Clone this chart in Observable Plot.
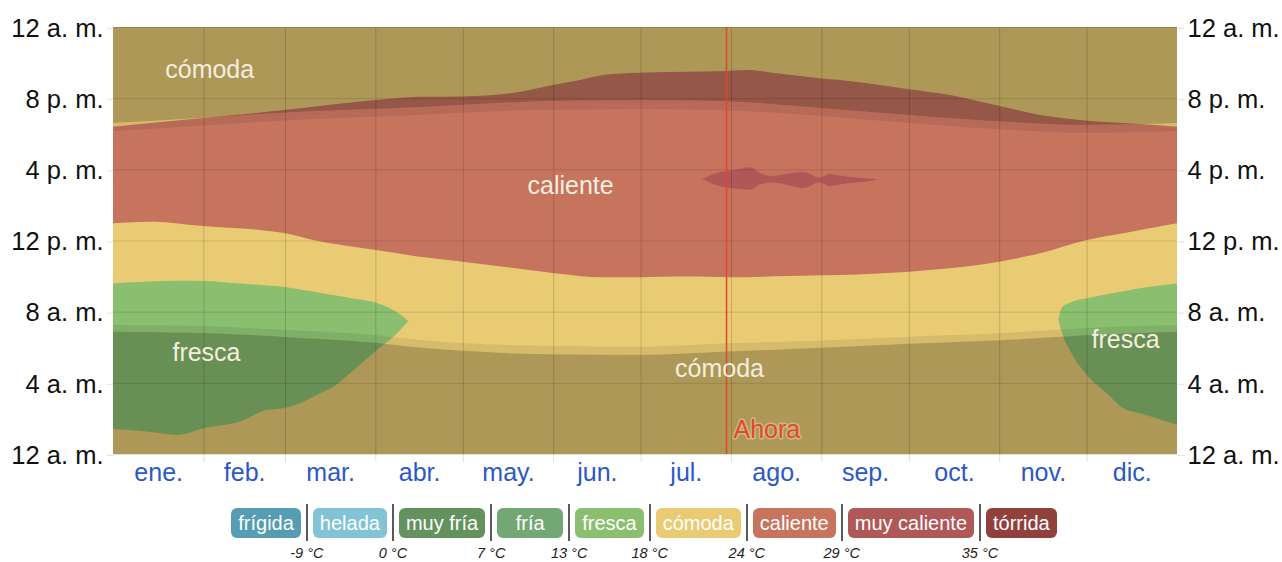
<!DOCTYPE html>
<html><head><meta charset="utf-8">
<script src="https://cdn.jsdelivr.net/npm/d3@7"></script>
<script src="https://cdn.jsdelivr.net/npm/@observablehq/plot@0.6"></script>
<style>
body{margin:0;background:#fff;font-family:"Liberation Sans",Arial,sans-serif;overflow:hidden}
#chart svg{display:block}
.legend{display:flex;justify-content:center;align-items:flex-start;margin-top:13px;height:54px;padding-left:6px}
.badge{height:30px;line-height:30px;border-radius:6px;color:#fff;font-size:20px;padding:0 7px;min-width:66px;box-sizing:border-box;text-align:center;white-space:nowrap}
.sep{position:relative;width:2px;height:37px;background:#5a5a5a;margin:-4px 5px 0 5px}
.sep span{position:absolute;top:42px;left:50%;transform:translateX(-50%);white-space:nowrap;font-style:italic;font-size:14.5px;line-height:14px;color:#222}
</style>
</head><body>
<div id="chart"></div>
<div class="legend" id="legend"></div>
<script>
// ---- data ----
const monthNames = ["ene.","feb.","mar.","abr.","may.","jun.","jul.","ago.","sep.","oct.","nov.","dic."];
const monthStarts = [31,59,90,120,151,181,212,243,273,304,334];
const monthMid = [15.5,45,74.5,105,135.5,166,196.5,227.5,258,288.5,319,349.5];
const hourTicks = [0,4,8,12,16,20,24];
const hourLabels = ["12 a. m.","4 a. m.","8 a. m.","12 p. m.","4 p. m.","8 p. m.","12 a. m."];

// caliente lower (morning) boundary
const calBottomDays = [0,13.7,30.9,58.7,68.6,90.2,105.3,120,133.8,151.5,168.1,180.8,196.9,211.4,231.2,249.4,273.1,287.1,303.9,318,334.1,348.9,365];
const calBottomHour = [12.97,13.06,12.81,12.42,12.03,11.47,11.09,10.81,10.53,10.16,9.93,9.93,9.97,9.93,10.0,10.06,10.25,10.44,10.81,11.28,12.03,12.48,12.97];
// caliente upper (evening) boundary
const calTopDays = [0,30.9,58.7,90.2,105.3,120,139.6,150.9,160.2,168.1,180.8,196.9,210.3,218.2,226.1,242.5,249.4,273.1,287.1,303.9,318,334.1,352.3,365];
const calTopHour = [18.40,18.88,19.33,19.90,20.08,20.10,20.36,20.74,21.02,21.30,21.43,21.48,21.53,21.58,21.43,21.12,21.02,20.50,20.18,19.57,19.05,18.73,18.55,18.40];

// fresca (Jan-Apr)
const frescaADays = [0,12.7,21.8,31,43.5,52.7,58.4,64.2,71,75.6,81.3,90.5,96.2,101.3];
const frescaALow  = [1.41,1.25,1.07,1.44,1.82,2.47,2.57,2.85,3.41,3.78,4.54,5.85,6.59,7.48];
const frescaAHigh = [9.59,9.70,9.74,9.73,9.58,9.47,9.40,9.24,9.07,8.94,8.77,8.49,8.09,7.48];
// fresca (Nov-Dec)
const frescaBDays = [324.3,325.4,328.2,334.1,340.9,346.6,352.3,358,365];
const frescaBLow  = [7.53,6.87,5.85,4.44,3.41,2.57,2.29,2.01,1.63];
const frescaBHigh = [7.53,8.20,8.50,8.75,8.98,9.15,9.31,9.45,9.59];

// muy caliente patch (Aug)
const muyDays = [202,204.8,208.2,213.4,218.5,222,226.1,231.1,236.8,242.5,245.9,249.4,253.9,259.9,262.1];
const muyLow  = [15.45,15.25,15.05,14.92,14.85,15.15,15.26,15.14,14.95,15.26,15.05,15.15,15.25,15.35,15.46];
const muyHigh = [15.45,15.65,15.85,15.98,16.12,15.80,15.63,15.75,15.85,15.54,15.75,15.65,15.55,15.48,15.46];

// sun: night and civil twilight
const sunDays    = [0,31,59,90,105,120,151,181,211,243,273,304,334,365];
const dawnHour   = [6.87,6.80,6.58,6.25,5.98,5.80,5.60,5.57,5.76,5.97,6.19,6.39,6.68,6.87];
const sunrise    = [7.25,7.19,6.97,6.69,6.41,6.24,6.07,6.03,6.22,6.38,6.59,6.78,7.08,7.25];
const sunset     = [18.15,18.45,18.75,18.95,19.05,19.18,19.35,19.38,19.30,19.0,18.6,18.25,18.05,18.15];
const duskHour   = [18.6,18.9,19.2,19.4,19.5,19.63,19.85,19.9,19.82,19.45,19.05,18.7,18.5,18.6];

const nowDay = 210.3;
const regionLabels = [
  {day:33, hour:21.6, text:"cómoda"},
  {day:156.8, hour:15.1, text:"caliente"},
  {day:31.9, hour:5.68, text:"fresca"},
  {day:207.9, hour:4.83, text:"cómoda"},
  {day:347.2, hour:6.41, text:"fresca"}
];

const legendNames  = ["frígida","helada","muy fría","fría","fresca","cómoda","caliente","muy caliente","tórrida"];
const legendColors = ["#569cb2","#82c4d6","#64925f","#73a874","#8bbf70","#e9cb74","#c7745f","#b05858","#91413c"];
const legendTemps  = ["-9 °C","0 °C","7 °C","13 °C","18 °C","24 °C","29 °C","35 °C"];

const C = {comoda:"#e9cb74", caliente:"#c7745f", muy:"#b05858", fresca:"#8bbf70"};

// ---- build ----
const zip = (xs, ...cols) => xs.map((x, i) => ({x, v: cols.map(c => c[i])}));
const calB = zip(calBottomDays, calBottomHour);
const calT = zip(calTopDays, calTopHour);
const frA = zip(frescaADays, frescaALow, frescaAHigh);
const frB = zip(frescaBDays, frescaBLow, frescaBHigh);
const muy = zip(muyDays, muyLow, muyHigh);
const sun = zip(sunDays, dawnHour, sunrise, sunset, duskHour);
const full = [{x:0},{x:365}];
const curve = "monotone-x";
const fmtHour = d => hourLabels[hourTicks.indexOf(d)];

const chart = Plot.plot({
  width: 1282, height: 495,
  marginTop: 27, marginBottom: 41, marginLeft: 113, marginRight: 105,
  x: {domain: [0, 365], axis: null},
  y: {domain: [0, 24], axis: null},
  style: {fontFamily: "'Liberation Sans', Arial, sans-serif", background: "transparent", overflow: "visible"},
  marks: [
    Plot.areaY(full, {x: "x", y1: 0, y2: 24, fill: C.comoda}),
    Plot.areaY(calB, {x: "x", y1: d => d.v[0], y2: 24, fill: C.caliente, curve}),
    Plot.areaY(calT, {x: "x", y1: d => d.v[0], y2: 24, fill: C.comoda, curve}),
    Plot.areaY(frA, {x: "x", y1: d => d.v[0], y2: d => d.v[1], fill: C.fresca, curve}),
    Plot.areaY(frB, {x: "x", y1: d => d.v[0], y2: d => d.v[1], fill: C.fresca, curve}),
    Plot.areaY(muy, {x: "x", y1: d => d.v[0], y2: d => d.v[1], fill: C.muy, curve}),
    // night & civil twilight overlays
    Plot.areaY(sun, {x: "x", y1: 0, y2: d => d.v[0], fill: "#000", fillOpacity: 0.25, curve}),
    Plot.areaY(sun, {x: "x", y1: d => d.v[0], y2: d => d.v[1], fill: "#000", fillOpacity: 0.08, curve}),
    Plot.areaY(sun, {x: "x", y1: d => d.v[2], y2: d => d.v[3], fill: "#000", fillOpacity: 0.08, curve}),
    Plot.areaY(sun, {x: "x", y1: d => d.v[3], y2: 24, fill: "#000", fillOpacity: 0.25, curve}),
    // grid
    Plot.gridX({ticks: monthStarts, stroke: "#000", strokeOpacity: 0.16}),
    Plot.gridY({ticks: hourTicks, stroke: "#000", strokeOpacity: 0.12}),
    Plot.axisX({ticks: monthStarts, tickSize: 8, tickFormat: () => "", label: null, stroke: "#000", strokeOpacity: 0.13}),
    Plot.axisX({ticks: monthMid, tickSize: 0, tickPadding: 9, label: null, tickFormat: d => monthNames[monthMid.indexOf(d)], fontSize: 25, fill: "#2b58c6"}),
    Plot.axisY({anchor: "left", ticks: hourTicks, tickSize: 6, tickPadding: 4, label: null, tickFormat: fmtHour, fontSize: 25.5, fill: "#111", stroke: "#000", strokeOpacity: 0.12, dy: 1}),
    Plot.axisY({anchor: "right", ticks: hourTicks, tickSize: 6, tickPadding: 4, label: null, tickFormat: fmtHour, fontSize: 25.5, fill: "#111", stroke: "#000", strokeOpacity: 0.12, dy: 1}),
    // now line
    Plot.ruleX([nowDay], {y1: 0, y2: 24, stroke: "#e8432b", strokeWidth: 1.5}),
    Plot.text([nowDay], {x: d => d, y: 1.35, text: () => "Ahora", textAnchor: "start", dx: 7, fontSize: 25, fill: "#e24a30", stroke: "#f2e2b0", strokeOpacity: 0.45, strokeWidth: 3}),
    // region labels
    Plot.text(regionLabels, {x: "day", y: "hour", text: "text", fontSize: 25, fill: "#f4eedf"})
  ]
});
document.getElementById("chart").appendChild(chart);

const lg = document.getElementById("legend");
legendNames.forEach((name, i) => {
  const b = document.createElement("div");
  b.className = "badge";
  b.style.background = legendColors[i];
  b.textContent = name;
  lg.appendChild(b);
  if (i < legendTemps.length) {
    const s = document.createElement("div");
    s.className = "sep";
    const t = document.createElement("span");
    t.textContent = legendTemps[i];
    s.appendChild(t);
    lg.appendChild(s);
  }
});
</script>
</body></html>
